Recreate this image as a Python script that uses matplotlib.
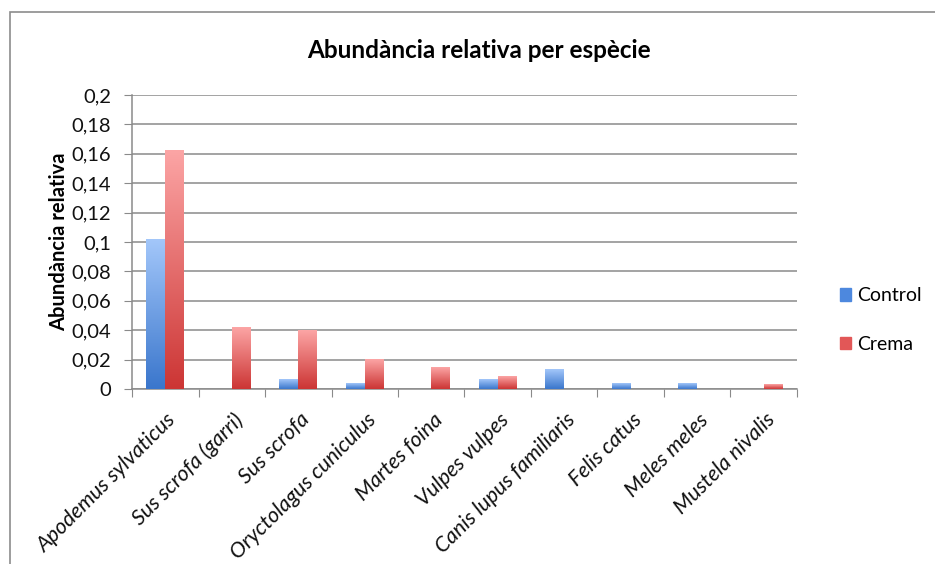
import numpy as np
import matplotlib.pyplot as plt
import matplotlib.transforms as mtransforms
from matplotlib.colors import LinearSegmentedColormap
from matplotlib.patches import Rectangle
from matplotlib.ticker import FuncFormatter

plt.rcParams['font.family'] = ['Lato', 'DejaVu Sans']

# Species and relative abundance for both treatments
especies = ['Apodemus sylvaticus', 'Sus scrofa (garri)', 'Sus scrofa',
            'Oryctolagus cuniculus', 'Martes foina', 'Vulpes vulpes',
            'Canis lupus familiaris', 'Felis catus', 'Meles meles',
            'Mustela nivalis']
control = [0.102, 0.0, 0.0066, 0.0035, 0.0, 0.0068, 0.0132, 0.0035, 0.0035, 0.0]
crema = [0.162, 0.042, 0.0397, 0.0202, 0.0143, 0.0088, 0.0, 0.0, 0.0, 0.0034]
yticks = [0, 0.02, 0.04, 0.06, 0.08, 0.1, 0.12, 0.14, 0.16, 0.18, 0.2]

fig = plt.figure(figsize=(9.35, 5.64), dpi=100)
W, H = 935, 564
ax = fig.add_axes([132 / W, 1 - 389 / H, (797 - 132) / W, (389 - 95) / H])

# outer chart frame (only top/left edges fall inside the image)
fig.patches.append(Rectangle((10 / W, -0.5), 2, 0.5 + 552 / H, transform=fig.transFigure,
                             fill=False, edgecolor='#8c8c8c', linewidth=1.2))

x = np.arange(len(especies))
bw = 0.285
bars_c = ax.bar(x - bw / 2, control, bw, color='none', edgecolor='none')
bars_r = ax.bar(x + bw / 2, crema, bw, color='none', edgecolor='none')

blue_cm = LinearSegmentedColormap.from_list('blau', ['#3a76cc', '#a3c7fa'])
red_cm = LinearSegmentedColormap.from_list('verm', ['#cc3534', '#fca5a5'])
grad = np.linspace(0, 1, 256).reshape(-1, 1)

# fill each bar with a vertical gradient (dark at the base, light at the top)
for bars, cm in ((bars_c, blue_cm), (bars_r, red_cm)):
    for b in bars:
        h = b.get_height()
        if h <= 0:
            continue
        x0 = b.get_x()
        ax.imshow(grad, cmap=cm, origin='lower', aspect='auto',
                  extent=(x0, x0 + b.get_width(), 0, h), zorder=3,
                  interpolation='bilinear')

ax.set_xlim(-0.5, len(especies) - 0.5)
ax.set_ylim(0, 0.2)
ax.set_yticks(yticks)
ax.yaxis.set_major_formatter(FuncFormatter(lambda v, p: ('%g' % round(v, 2)).replace('.', ',')))
ax.yaxis.grid(True, color='#8a8a8a', linewidth=1.1)
ax.set_axisbelow(True)

for s in ('top', 'right'):
    ax.spines[s].set_visible(False)
for s in ('left', 'bottom'):
    ax.spines[s].set_color('#8a8a8a')
    ax.spines[s].set_linewidth(1.1)

ax.tick_params(axis='y', direction='out', length=6, color='#8a8a8a',
               labelsize=14.5, pad=9, labelcolor='#111111')
ax.set_xticks(np.arange(len(especies) + 1) - 0.5)
ax.set_xticklabels([])
ax.tick_params(axis='x', direction='out', length=6, color='#8a8a8a')
ax.set_xticks(x, minor=True)
ax.set_xticklabels(especies, minor=True, rotation=45, ha='right',
                   rotation_mode='anchor', fontsize=15.5, style='italic',
                   color='#111111')
ax.tick_params(axis='x', which='minor', length=0, pad=12)
shift = mtransforms.ScaledTranslation(1 / 100, -4 / 100, fig.dpi_scale_trans)
for lbl in ax.get_xticklabels(minor=True):
    lbl.set_transform(lbl.get_transform() + shift)

ax.set_ylabel('Abundància relativa', fontsize=14.5, fontweight='bold', labelpad=2)
fig.text(479 / W, 1 - 50 / H, 'Abundància relativa per espècie',
         ha='center', va='center', fontsize=17.5, fontweight='bold')

# legend with small square markers
fig.legend([Rectangle((0, 0), 1, 1, color='#4d88de'),
            Rectangle((0, 0), 1, 1, color='#e25757')],
           ['Control', 'Crema'], loc='center left',
           bbox_to_anchor=(822 / W, 1 - 320 / H), frameon=False,
           fontsize=14, handlelength=0.6, handleheight=0.6,
           handletextpad=0.3, labelspacing=1.6)

fig.savefig('out.png', dpi=100)
